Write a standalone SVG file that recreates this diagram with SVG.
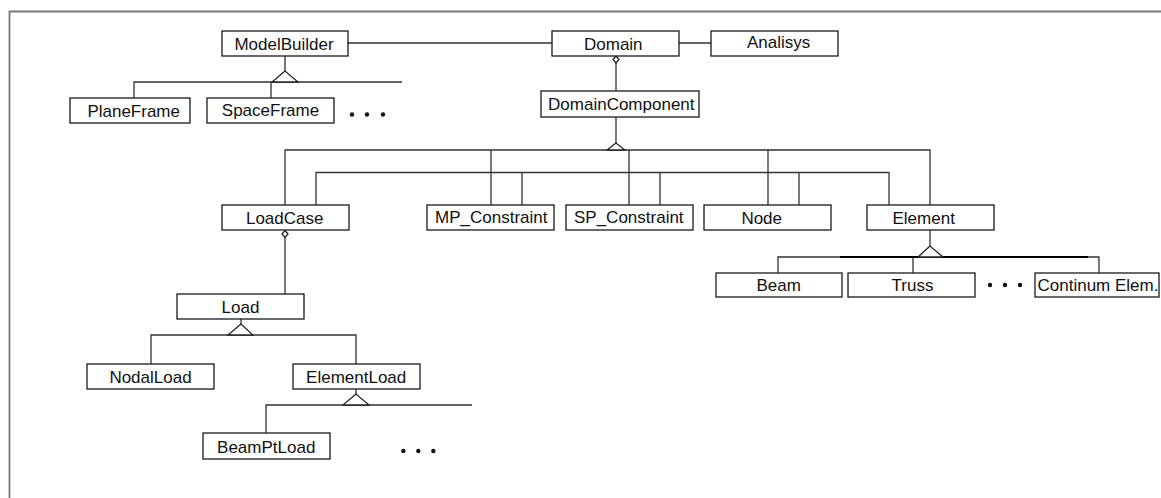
<svg xmlns="http://www.w3.org/2000/svg" width="1161" height="498" viewBox="0 0 1161 498">
<style>
.box{fill:#fff;stroke:#1a1a1a;stroke-width:1.3}
.t{font-family:"Liberation Sans",Arial,sans-serif;font-size:17px;fill:#111;text-anchor:middle}
.c{fill:none;stroke:#333;stroke-width:1.3}
.tri{fill:#fff;stroke:#222;stroke-width:1.3}
.dot{fill:#111}
</style>
<rect width="1161" height="498" fill="#fff"/>
<g id="frame"><path d="M9.5 498 V11.5 H1161" fill="none" stroke="#777" stroke-width="1.8"/></g>
<g id="connectors">
<path class="c" d="M348 43 H552 M679 43 H711"/>
<path class="c" d="M285 56 V71 M134 98 V82 H402 M271 82 V98"/>
<polygon class="tri" points="285,71 272,82 298,82"/>
<path class="c" d="M616 63 V91"/>
<polygon class="tri" points="616,56 619,59.5 616,63 613,59.5"/>
<path class="c" d="M616 117 V143"/>
<path class="c" d="M285 205 V150 H930 V205 M491 150 V205 M629 150 V205 M768 150 V205"/>
<path class="c" d="M316 205 V172.5 H889 V205 M522 172.5 V205 M660 172.5 V205 M799 172.5 V205"/>
<polygon class="tri" points="616,143 607,150 625,150"/>
<path class="c" d="M285 237 V294"/>
<polygon class="tri" points="285,230.5 288,234 285,237.5 282,234"/>
<path class="c" d="M930 230 V246 M778 273 V257 H1099 V273 M913 257 V273"/>
<path d="M840 257 H1088" stroke="#000" stroke-width="2.2"/>
<polygon class="tri" points="930,246 918,257 943,257"/>
<path class="c" d="M241 319 V324 M151 364 V335 H356 V364"/>
<polygon class="tri" points="241,324 228,335 253,335"/>
<path class="c" d="M356 389 V394 M266 433 V405 H472"/>
<polygon class="tri" points="356,394 343,405 369,405"/>
</g>
<g id="ModelBuilder"><rect class="box" x="222" y="31" width="126" height="25"/><text class="t" x="284" y="50">ModelBuilder</text></g>
<g id="Domain"><rect class="box" x="552" y="31" width="127" height="25"/><text class="t" x="613.3" y="50">Domain</text></g>
<g id="Analisys"><rect class="box" x="711" y="31" width="127" height="25"/><text class="t" x="778.7" y="48.3">Analisys</text></g>
<g id="PlaneFrame"><rect class="box" x="70" y="98" width="120" height="25"/><text class="t" x="133.7" y="117.3">PlaneFrame</text></g>
<g id="SpaceFrame"><rect class="box" x="207" y="98" width="127" height="25"/><text class="t" x="270.5" y="115.5">SpaceFrame</text></g>
<g id="dots1"><circle class="dot" cx="352" cy="114.5" r="2.2"/><circle class="dot" cx="367" cy="114.5" r="2.2"/><circle class="dot" cx="383" cy="114.5" r="2.2"/></g>
<g id="DomainComponent"><rect class="box" x="541" y="91" width="158" height="26"/><text class="t" x="621.3" y="109.5">DomainComponent</text></g>
<g id="LoadCase"><rect class="box" x="222" y="205" width="127" height="25"/><text class="t" x="284.7" y="224">LoadCase</text></g>
<g id="MP_Constraint"><rect class="box" x="427" y="205" width="127" height="25"/><text class="t" x="491.3" y="223">MP_Constraint</text></g>
<g id="SP_Constraint"><rect class="box" x="566" y="205" width="127" height="25"/><text class="t" x="628.8" y="223.3">SP_Constraint</text></g>
<g id="Node"><rect class="box" x="704" y="205" width="127" height="25"/><text class="t" x="761.7" y="224">Node</text></g>
<g id="Element"><rect class="box" x="867" y="205" width="127" height="25"/><text class="t" x="923.7" y="224">Element</text></g>
<g id="Beam"><rect class="box" x="716" y="273" width="126" height="24"/><text class="t" x="778.7" y="290.7">Beam</text></g>
<g id="Truss"><rect class="box" x="848" y="273" width="127" height="24"/><text class="t" x="912.5" y="290.7">Truss</text></g>
<g id="dots2"><circle class="dot" cx="990" cy="285" r="2.2"/><circle class="dot" cx="1005" cy="285" r="2.2"/><circle class="dot" cx="1020" cy="285" r="2.2"/></g>
<g id="ContinumElem"><rect class="box" x="1035" y="273" width="124" height="24"/><text class="t" x="1037.5" y="290.7" style="text-anchor:start">Continum Elem.</text></g>
<g id="Load"><rect class="box" x="177" y="294" width="127" height="25"/><text class="t" x="240.5" y="312.7">Load</text></g>
<g id="NodalLoad"><rect class="box" x="87" y="364" width="127" height="25"/><text class="t" x="150.5" y="382.7">NodalLoad</text></g>
<g id="ElementLoad"><rect class="box" x="293" y="364" width="127" height="25"/><text class="t" x="356.2" y="382.7">ElementLoad</text></g>
<g id="BeamPtLoad"><rect class="box" x="203" y="433" width="127" height="26"/><text class="t" x="266.2" y="452.7">BeamPtLoad</text></g>
<g id="dots3"><circle class="dot" cx="403.3" cy="451" r="2.2"/><circle class="dot" cx="418.3" cy="451" r="2.2"/><circle class="dot" cx="433.3" cy="451" r="2.2"/></g>
</svg>
